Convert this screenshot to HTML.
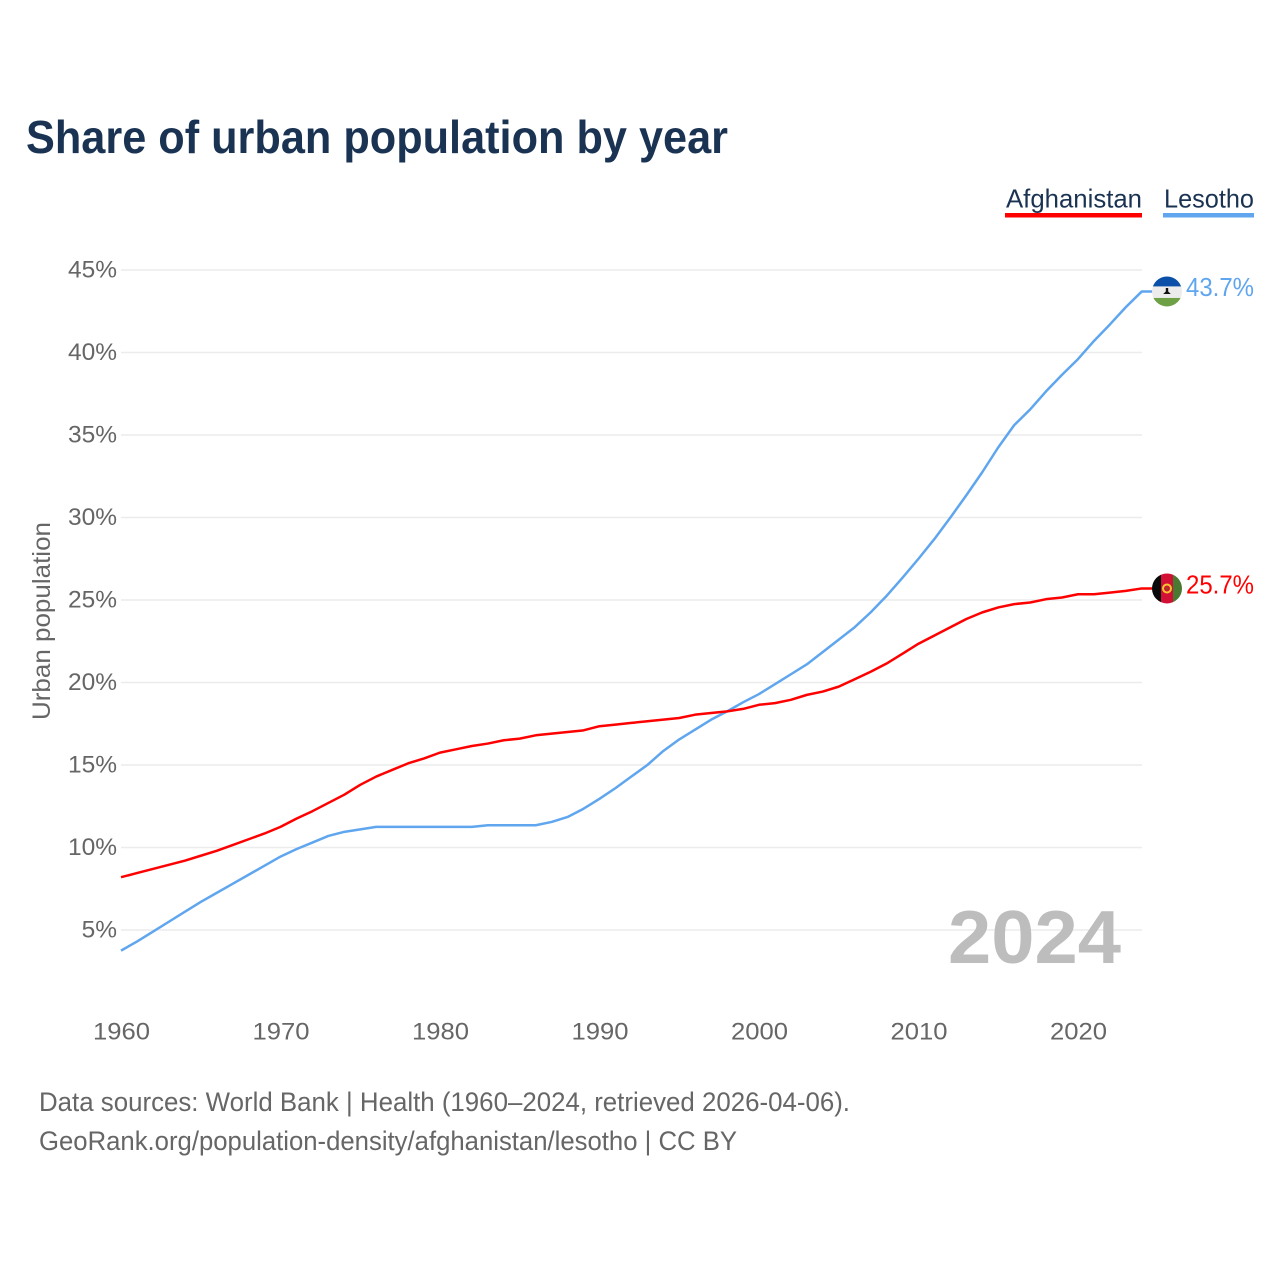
<!DOCTYPE html>
<html lang="en">
<head>
<meta charset="utf-8">
<title>Share of urban population by year</title>
<style>
  html, body { margin: 0; padding: 0; background: #fff; }
  svg { display: block; font-family: "Liberation Sans", Arial, sans-serif; }
</style>
</head>
<body>
<svg id="chart" width="1280" height="1280" viewBox="0 0 1280 1280" xmlns="http://www.w3.org/2000/svg">
  <defs>
    <clipPath id="flag-clip-top"><circle id="clip-top" cx="1167" cy="290.5" r="15"/></clipPath>
    <clipPath id="flag-clip-bottom"><circle id="clip-bottom" cx="1167" cy="587.5" r="15"/></clipPath>
  </defs>
  <rect width="1280" height="1280" fill="#fff"/>
  <text x="26" y="153" font-size="46" font-weight="700" fill="#1a3353" textLength="702" lengthAdjust="spacingAndGlyphs">Share of urban population by year</text>

  <g>
    <g>
      <text x="1006" y="207.5" font-size="26" fill="#1a3353" textLength="136" lengthAdjust="spacingAndGlyphs">Afghanistan</text>
      <rect x="1005" y="213" width="137" height="4.5" fill="#ff0000"/>
    </g>
    <g>
      <text x="1164" y="207.5" font-size="26" fill="#1a3353" textLength="90" lengthAdjust="spacingAndGlyphs">Lesotho</text>
      <rect x="1163" y="213" width="91" height="4.5" fill="#5fa6ef"/>
    </g>
  </g>

  <g id="grid"></g>
  <g id="y-ticks"></g>
  <g id="x-ticks"></g>
  <text transform="translate(50,621) rotate(-90)" text-anchor="middle" font-size="25" fill="#666" textLength="198" lengthAdjust="spacingAndGlyphs">Urban population</text>

  <text x="948" y="963" font-size="75" font-weight="700" fill="#bdbdbd" textLength="173" lengthAdjust="spacingAndGlyphs">2024</text>

  <g id="series"></g>

  <g id="flag-lesotho" clip-path="url(#flag-clip-top)"></g>
  <g id="flag-afghanistan" clip-path="url(#flag-clip-bottom)"></g>
  <g id="end-labels"></g>

  <g>
    <text x="39" y="1111" font-size="27" fill="#666" textLength="811" lengthAdjust="spacingAndGlyphs">Data sources: World Bank | Health (1960–2024, retrieved 2026-04-06).</text>
    <text x="39" y="1150" font-size="27" fill="#666" textLength="698" lengthAdjust="spacingAndGlyphs">GeoRank.org/population-density/afghanistan/lesotho | CC BY</text>
  </g>
</svg>
<script>
const years = [1960,1961,1962,1963,1964,1965,1966,1967,1968,1969,1970,1971,1972,1973,1974,1975,1976,1977,1978,1979,1980,1981,1982,1983,1984,1985,1986,1987,1988,1989,1990,1991,1992,1993,1994,1995,1996,1997,1998,1999,2000,2001,2002,2003,2004,2005,2006,2007,2008,2009,2010,2011,2012,2013,2014,2015,2016,2017,2018,2019,2020,2021,2022,2023,2024];
const afghanistanValues = [8.2,8.45,8.7,8.95,9.2,9.5,9.8,10.15,10.5,10.85,11.25,11.75,12.2,12.7,13.2,13.8,14.3,14.7,15.1,15.4,15.75,15.95,16.15,16.3,16.5,16.6,16.8,16.9,17.0,17.1,17.35,17.45,17.55,17.65,17.75,17.85,18.05,18.15,18.25,18.4,18.65,18.75,18.95,19.25,19.45,19.75,20.2,20.65,21.15,21.75,22.35,22.85,23.35,23.85,24.25,24.55,24.75,24.85,25.05,25.15,25.35,25.35,25.45,25.55,25.7];
const lesothoValues = [3.75,4.3,4.9,5.5,6.1,6.7,7.25,7.8,8.35,8.9,9.45,9.9,10.3,10.7,10.95,11.1,11.25,11.25,11.25,11.25,11.25,11.25,11.25,11.35,11.35,11.35,11.35,11.55,11.85,12.35,12.95,13.6,14.3,15.0,15.85,16.55,17.15,17.75,18.25,18.8,19.3,19.9,20.5,21.1,21.85,22.6,23.35,24.25,25.25,26.35,27.5,28.7,30.0,31.35,32.75,34.25,35.6,36.55,37.65,38.65,39.6,40.7,41.7,42.75,43.7];
const yTickValues = [5,10,15,20,25,30,35,40,45];
const xTickValues = [1960,1970,1980,1990,2000,2010,2020];

const NS = 'http://www.w3.org/2000/svg';
const xScale = function (year) { return 121 + (year - 1960) * 15.95; };
const yScale = function (value) { return 930 - (value - 5) * 16.5; };

function make(tag, parent, attrs, text) {
  const el = document.createElementNS(NS, tag);
  for (const key in attrs) el.setAttribute(key, attrs[key]);
  if (text !== undefined) el.textContent = text;
  parent.appendChild(el);
  return el;
}

const grid = document.getElementById('grid');
const yTicks = document.getElementById('y-ticks');
yTickValues.forEach(function (v) {
  const line = make('line', grid, { x1: 121, x2: 1142, y1: yScale(v), y2: yScale(v), stroke: '#ececec', 'stroke-width': 1.5 });
  
  
  const label = make('text', yTicks, { x: 117, y: yScale(v) + 7.5, 'text-anchor': 'end', 'font-size': 24.5, fill: '#666' }, v + '%');
  
  
});

const xTicks = document.getElementById('x-ticks');
xTickValues.forEach(function (y) {
  const label = make('text', xTicks, { x: xScale(y) + 0.5, y: 1039.5, 'text-anchor': 'middle', 'font-size': 24, fill: '#666', textLength: 57, lengthAdjust: 'spacingAndGlyphs' }, String(y));
  
  
});

const series = document.getElementById('series');
function drawLine(values, color, name) {
  const pts = values.map(function (v, i) { return xScale(years[i]).toFixed(2) + ',' + yScale(v).toFixed(2); });
  const last = yScale(values[values.length - 1]).toFixed(2);
  pts.push('1153,' + last);
  const line = make('polyline', series, { points: pts.join(' '), fill: 'none', stroke: color, 'stroke-width': 2.5, 'stroke-linejoin': 'round' });
  
  
}
drawLine(lesothoValues, '#5fa6ef', 'line-lesotho');
drawLine(afghanistanValues, '#ff0000', 'line-afghanistan');

const lesothoY = yScale(lesothoValues[lesothoValues.length - 1]);
const afghanistanY = yScale(afghanistanValues[afghanistanValues.length - 1]);
document.getElementById('clip-top').setAttribute('cy', lesothoY);
document.getElementById('clip-bottom').setAttribute('cy', afghanistanY);

const fl = document.getElementById('flag-lesotho');
make('rect', fl, { x: 1150, y: lesothoY - 16, width: 34, height: 11, fill: '#0a50a8' });
make('rect', fl, { x: 1150, y: lesothoY - 5, width: 34, height: 11.5, fill: '#ececec' });
make('rect', fl, { x: 1150, y: lesothoY + 6.5, width: 34, height: 10, fill: '#6ea046' });
make('path', fl, { d: 'M1165.8 ' + (lesothoY - 3.5) + 'h2.4v3.6l2.6 2.4h-7.6l2.6-2.4z', fill: '#111' });

const fa = document.getElementById('flag-afghanistan');
make('rect', fa, { x: 1150, y: afghanistanY - 16, width: 11, height: 32, fill: '#0a0a0a' });
make('rect', fa, { x: 1161, y: afghanistanY - 16, width: 12, height: 32, fill: '#d20f34' });
make('rect', fa, { x: 1173, y: afghanistanY - 16, width: 11, height: 32, fill: '#4a7a32' });
make('circle', fa, { cx: 1167, cy: afghanistanY, r: 4, fill: 'none', stroke: '#f4c430', 'stroke-width': 2 });
make('circle', fa, { cx: 1167, cy: afghanistanY, r: 1.2, fill: '#7a5a10' });

const endLabels = document.getElementById('end-labels');
const labelLesotho = make('text', endLabels, { x: 1186, y: lesothoY + 6.5 - 2, 'font-size': 26, fill: '#5fa6ef', textLength: 68, lengthAdjust: 'spacingAndGlyphs' }, lesothoValues[lesothoValues.length - 1].toFixed(1) + '%');


const labelAfghanistan = make('text', endLabels, { x: 1186, y: afghanistanY + 5, 'font-size': 26, fill: '#ff0000', textLength: 68, lengthAdjust: 'spacingAndGlyphs' }, afghanistanValues[afghanistanValues.length - 1].toFixed(1) + '%');


</script>
</body>
</html>
